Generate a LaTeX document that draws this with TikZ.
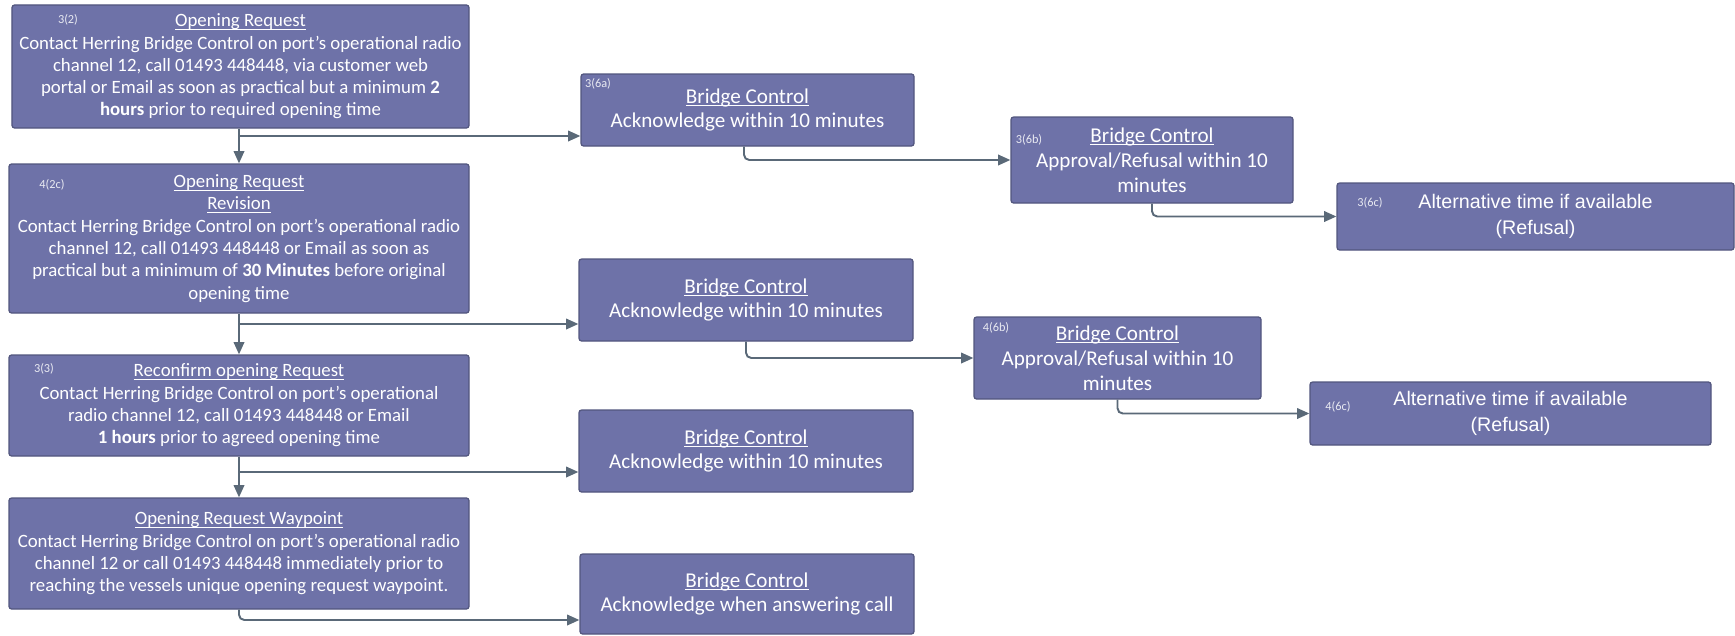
\documentclass[tikz,border=0pt]{standalone}
\usepackage{fontspec}
\setmainfont{Carlito}
\newfontfamily\altfont{Liberation Sans}
\usepackage{tikz}
\usetikzlibrary{calc,arrows.meta}

\definecolor{boxfill}{RGB}{110,114,168}
\definecolor{boxedge}{RGB}{82,86,126}
\definecolor{linkgray}{RGB}{90,105,120}
\newcommand{\headline}[1]{\underline{\raisebox{0pt}[\height][0pt]{#1}}}

\begin{document}
\begin{tikzpicture}[
    box/.style={draw=boxedge, line width=0.7pt, fill=boxfill, rounded corners=1.5pt, text=white, align=center, inner sep=0pt},
    stepbox/.style={box, font=\fontsize{10.7}{12.7}\selectfont},
    ctrlbox/.style={box, font=\fontsize{12}{14.2}\selectfont},
    altbox/.style={box, font=\altfont\fontsize{11.2}{14.6}\selectfont},
    ref/.style={text=white!85!boxfill, font=\fontsize{7}{8}\selectfont, inner sep=0pt},
    link/.style={draw=linkgray, line width=1.1pt, -{Triangle[length=7pt,width=6pt]}, rounded corners=3pt},
  ]
      \useasboundingbox (0,0) rectangle (34.7,-12.7);

      % left column: requests from the vessel
      \node[stepbox, minimum width=9.14cm, minimum height=2.46cm] (req) at (4.81,-1.33) {\headline{Opening Request}\\
        Contact Herring Bridge Control on port's operational radio\\
        channel 12, call 01493 448448, via customer web\\
        portal or Email as soon as practical but a minimum \textbf{2}\\
        \textbf{hours} prior to required opening time};
      \node[stepbox, minimum width=9.2cm, minimum height=2.98cm] (rev) at (4.78,-4.77) {\headline{Opening Request}\\
        \headline{Revision}\\
        Contact Herring Bridge Control on port's operational radio\\
        channel 12, call 01493 448448 or Email as soon as\\
        practical but a minimum of \textbf{30 Minutes} before original\\
        opening time};
      \node[stepbox, minimum width=9.2cm, minimum height=2.02cm] (conf) at (4.78,-8.11) {\headline{Reconfirm opening Request}\\
        Contact Herring Bridge Control on port's operational\\
        radio channel 12, call 01493 448448 or Email\\
        \textbf{1 hours} prior to agreed opening time};
      \node[stepbox, minimum width=9.2cm, minimum height=2.22cm] (way) at (4.78,-11.07) {\headline{Opening Request Waypoint}\\
        Contact Herring Bridge Control on port's operational radio\\
        channel 12 or call 01493 448448 immediately prior to\\
        reaching the vessels unique opening request waypoint.};

      % replies from bridge control
      \node[ctrlbox, minimum width=6.66cm, minimum height=1.44cm] (ack1) at (14.95,-2.2) {\headline{Bridge Control}\\ Acknowledge within 10 minutes};
      \node[ctrlbox, minimum width=5.64cm, minimum height=1.72cm] (ok1) at (23.04,-3.2) {\headline{Bridge Control}\\ Approval/Refusal within 10\\ minutes};
      \node[altbox, minimum width=7.94cm, minimum height=1.34cm] (alt1) at (30.71,-4.33) {Alternative time if available\\ (Refusal)};
      \node[ctrlbox, minimum width=6.68cm, minimum height=1.64cm] (ack2) at (14.92,-6.0) {\headline{Bridge Control}\\ Acknowledge within 10 minutes};
      \node[ctrlbox, minimum width=5.74cm, minimum height=1.64cm] (ok2) at (22.35,-7.16) {\headline{Bridge Control}\\ Approval/Refusal within 10\\ minutes};
      \node[altbox, minimum width=8.02cm, minimum height=1.26cm] (alt2) at (30.21,-8.27) {Alternative time if available\\ (Refusal)};
      \node[ctrlbox, minimum width=6.68cm, minimum height=1.64cm] (ack3) at (14.92,-9.02) {\headline{Bridge Control}\\ Acknowledge within 10 minutes};
      \node[ctrlbox, minimum width=6.68cm, minimum height=1.6cm] (ack4) at (14.94,-11.88) {\headline{Bridge Control}\\ Acknowledge when answering call};

      % small references
      \node[ref] (r32) at (1.36,-0.4) {3(2)};
      \node[ref] (r42c) at (1.04,-3.7) {4(2c)};
      \node[ref] (r33) at (0.88,-7.38) {3(3)};
      \node[ref] (r36a) at (11.96,-1.68) {3(6a)};
      \node[ref] (r36b) at (20.58,-2.8) {3(6b)};
      \node[ref] (r36c) at (27.4,-4.06) {3(6c)};
      \node[ref] (r46b) at (19.92,-6.56) {4(6b)};
      \node[ref] (r46c) at (26.76,-8.14) {4(6c)};

      % connectors
      \coordinate (reqfork) at (4.78,-2.72);
      \coordinate (revfork) at (4.78,-6.48);
      \coordinate (conffork) at (4.78,-9.44);
      \coordinate (waybend) at (4.78,-12.4);
      \draw[link] (req.south -| reqfork) -- (rev.north -| reqfork);
      \draw[link] (reqfork) -- (reqfork -| ack1.west);
      \draw[link] (rev.south -| revfork) -- (conf.north -| revfork);
      \draw[link] (revfork) -- (revfork -| ack2.west);
      \draw[link] (conf.south -| conffork) -- (way.north -| conffork);
      \draw[link] (conffork) -- (conffork -| ack3.west);
      \draw[link] (way.south -| waybend) -- (waybend) -- (waybend -| ack4.west);
      \draw[link] ([xshift=-0.07cm]ack1.south) |- (ok1.west);
      \draw[link] (ok1.south) |- (alt1.west);
      \draw[link] (ack2.south) |- (ok2.west);
      \draw[link] (ok2.south) |- (alt2.west);
\end{tikzpicture}
\end{document}
